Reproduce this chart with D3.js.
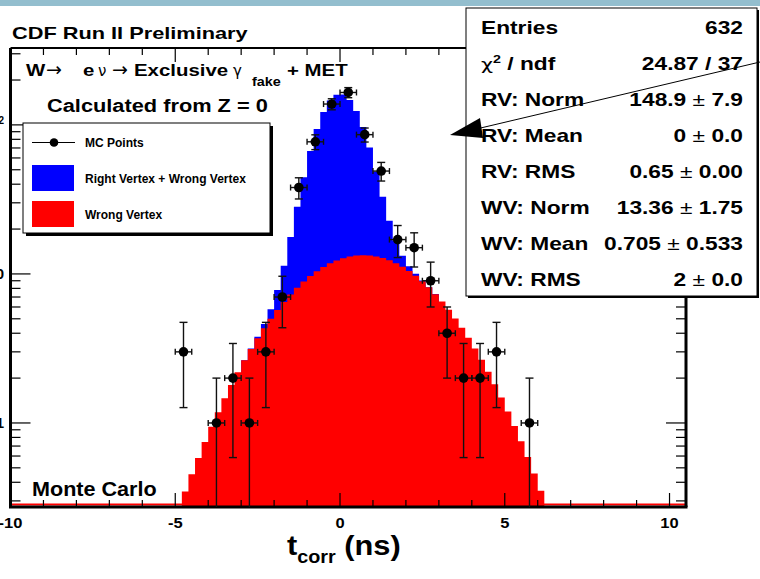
<!DOCTYPE html>
<html>
<head>
<meta charset="utf-8">
<script src="https://cdn.jsdelivr.net/npm/d3@7"></script>
<style>
  body { margin: 0; background: #fff; }
  svg { display: block; }
  text { font-family: "Liberation Sans", Arial, sans-serif; fill: #000; }
  .sym { font-family: "DejaVu Sans", sans-serif; }
</style>
</head>
<body>
<svg width="760" height="579"></svg>
<script>
// histogram binning (ns)
const binWidth = 0.2;
const redStart = -4.8;   // wrong vertex template, low edge of first filled bin
const redValues = [0.347, 0.452, 0.583, 0.745, 0.943, 1.182, 1.465, 1.799, 2.187, 2.632,
  3.136, 3.700, 4.321, 4.996, 5.720, 6.483, 7.275, 8.083, 8.891, 9.682,
  10.438, 11.142, 11.775, 12.320, 12.763, 13.089, 13.290, 13.360, 13.297, 13.102,
  12.782, 12.345, 11.804, 11.176, 10.475, 9.721, 8.931, 8.124, 7.315, 6.522,
  5.757, 5.031, 4.354, 3.730, 3.163, 2.656, 2.208, 1.817, 1.480, 1.195,
  0.954, 0.754, 0.591, 0.458, 0.351];
const blueStart = -3.0;  // right vertex + wrong vertex
const blueValues = [2.64, 3.16, 3.79, 4.61, 5.80, 7.80, 11.35, 17.67, 28.23, 44.45,
  66.77, 93.82, 121.90, 145.64, 159.47, 159.91, 146.95, 124.05, 96.74, 70.39,
  48.66, 32.93, 22.74, 16.68, 13.25, 11.28, 10.01, 9.02, 8.15, 7.32];

// MC points (0.5 ns bins)
const mcHalfWidth = 0.25;
const mcTimes = [-4.75, -3.75, -3.25, -2.75, -2.25, -1.75, -1.25, -0.75, -0.25, 0.25,
  0.75, 1.25, 1.75, 2.25, 2.75, 3.25, 3.75, 4.25, 4.75, 5.75];
const mcCounts = [3, 1, 2, 1, 3, 7, 38, 77, 138, 165, 86, 49, 17, 15, 9, 4, 2, 2, 3, 1];

const xTickLabels = [-10, -5, 0, 5, 10];
const yDecades = [1, 10, 100];
const yDecadeLabels = [["1", ""], ["10", ""], ["10", "2"]];

const statsLabels = [
  [["Entries", "b"]],
  [["\u03c7", "n"], ["2", "sup"], [" / ndf", "b"]],
  [["RV: Norm", "b"]], [["RV: Mean", "b"]], [["RV: RMS", "b"]],
  [["WV: Norm", "b"]], [["WV: Mean", "b"]], [["WV: RMS", "b"]]
];
const statsValues = ["632", "24.87 / 37", "148.9 \u00b1 7.9", "0 \u00b1 0.0", "0.65 \u00b1 0.00",
  "13.36 \u00b1 1.75", "0.705 \u00b1 0.533", "2 \u00b1 0.0"];
const legendLabels = ["MC Points", "Right Vertex + Wrong Vertex", "Wrong Vertex"];

const svg = d3.select("svg");

const x = d3.scaleLinear().domain([-10, 10.5]).range([10.5, 686]);
const y = d3.scaleLog().domain([0.273, 328]).range([507, 48]);
const yBottom = y.range()[0], yTop = y.range()[1];
const xLeft = x.range()[0], xRight = x.range()[1];

// light band at the very top of the slide
svg.append("rect").attr("width", 760).attr("height", 6).attr("fill", "#93bece");

function stext(parent, px, py, sx, size, weight, anchor, str) {
  return parent.append("text")
    .attr("transform", `translate(${px},${py}) scale(${sx},1)`)
    .attr("text-anchor", anchor || "start")
    .attr("font-size", size)
    .attr("font-weight", weight)
    .text(str);
}

// histograms
function histPath(start, values) {
  const pts = [];
  values.forEach((v, i) => {
    const lo = start + i * binWidth;
    pts.push([lo, v], [lo + binWidth, v]);
  });
  return d3.area()
    .x(d => x(d[0]))
    .y0(yBottom)
    .y1(d => y(Math.max(d[1], y.domain()[0])))(pts);
}

svg.append("path").attr("d", histPath(blueStart, blueValues)).attr("fill", "#0000ff");
svg.append("path").attr("d", histPath(redStart, redValues)).attr("fill", "#ff0000");
// underflow of the red template along the bottom edge
svg.append("rect").attr("x", xLeft).attr("y", yBottom - 3.5)
  .attr("width", xRight - xLeft).attr("height", 2).attr("fill", "#ff0000");

// ticks
const xMinor = d3.range(-10, 10.5, 1);
const ticks = svg.append("g").attr("stroke", "#000").attr("stroke-width", 1.2);
xMinor.forEach(v => {
  const len = v % 5 === 0 ? 14 : 7;
  ticks.append("line").attr("x1", x(v)).attr("x2", x(v)).attr("y1", yBottom).attr("y2", yBottom - len);
  ticks.append("line").attr("x1", x(v)).attr("x2", x(v)).attr("y1", yTop).attr("y2", yTop + len);
});
const yMinor = [];
[0.1, 1, 10, 100].forEach(d => {
  for (let k = 1; k <= 9; k++) {
    const v = k * d;
    if (v >= y.domain()[0] && v <= y.domain()[1]) yMinor.push([v, k === 1]);
  }
});
yMinor.forEach(([v, major]) => {
  const len = major ? 20 : 10;
  ticks.append("line").attr("x1", xLeft).attr("x2", xLeft + len).attr("y1", y(v)).attr("y2", y(v));
  ticks.append("line").attr("x1", xRight).attr("x2", xRight - len).attr("y1", y(v)).attr("y2", y(v));
});

// frame
const frame = svg.append("g").attr("stroke", "#000");
frame.append("line").attr("x1", xLeft - 1.5).attr("x2", xRight + 1.5).attr("y1", yBottom).attr("y2", yBottom).attr("stroke-width", 3);
frame.append("line").attr("x1", xLeft).attr("x2", xLeft).attr("y1", yTop).attr("y2", yBottom).attr("stroke-width", 3);
frame.append("line").attr("x1", xRight).attr("x2", xRight).attr("y1", yTop).attr("y2", yBottom).attr("stroke-width", 3);
frame.append("line").attr("x1", xLeft).attr("x2", xRight).attr("y1", yTop).attr("y2", yTop).attr("stroke-width", 2);

// tick labels
xTickLabels.forEach(v => stext(svg, x(v), 528, 1.1, 15, "bold", "middle", String(v)));
yDecades.forEach((v, i) => {
  const t = svg.append("text").attr("x", 4).attr("y", y(v) + 5)
    .attr("text-anchor", "end").attr("font-size", 15).attr("font-weight", "bold")
    .text(yDecadeLabels[i][0]);
  if (yDecadeLabels[i][1]) t.append("tspan").attr("dy", -6).attr("font-size", 10).text(yDecadeLabels[i][1]);
});

// axis title
const xt = stext(svg, 287, 555, 1.1, 28, "bold", "start", "t");
xt.append("tspan").attr("font-size", 18).attr("dy", 8).text("corr");
xt.append("tspan").attr("dy", -8).text(" (ns)");

// MC points with errors
const pts = svg.append("g").attr("stroke", "#111").attr("stroke-width", 1.4);
mcTimes.forEach((t, i) => {
  const n = mcCounts[i], e = Math.sqrt(n);
  const cx = x(t), cy = y(n);
  const hi = y(n + e);
  const lo = n - e > y.domain()[0] ? y(n - e) : yBottom;
  pts.append("line").attr("x1", cx).attr("x2", cx).attr("y1", hi).attr("y2", lo);
  pts.append("line").attr("x1", cx - 4).attr("x2", cx + 4).attr("y1", hi).attr("y2", hi);
  if (lo < yBottom) pts.append("line").attr("x1", cx - 4).attr("x2", cx + 4).attr("y1", lo).attr("y2", lo);
  const xl = x(t - mcHalfWidth), xr = x(t + mcHalfWidth);
  pts.append("line").attr("x1", xl).attr("x2", xr).attr("y1", cy).attr("y2", cy);
  pts.append("line").attr("x1", xl).attr("x2", xl).attr("y1", cy - 3).attr("y2", cy + 3);
  pts.append("line").attr("x1", xr).attr("x2", xr).attr("y1", cy - 3).attr("y2", cy + 3);
  pts.append("circle").attr("cx", cx).attr("cy", cy).attr("r", 4.8).attr("fill", "#000").attr("stroke", "none");
});

// texts in the pad
stext(svg, 12, 38.5, 1.28, 17, "bold", "start", "CDF Run II Preliminary");
const sub = [["W", 26, "bold", 17, 76], ["\u2192", 46, "sym", 19, 76], ["e", 83, "bold", 17, 76],
  ["\u03bd", 98, "sym", 15, 76], ["\u2192", 112, "sym", 19, 76], ["Exclusive", 134, "bold", 17, 76],
  ["\u03b3", 233, "sym", 15, 76], ["fake", 252, "bold", 12, 86], ["+ MET", 287, "bold", 17, 76]];
sub.forEach(([s, px, w, fs, py]) => {
  const t = stext(svg, px, py, w === "sym" ? 1 : 1.2, fs, w === "sym" ? "normal" : w, "start", s);
  if (w === "sym") t.attr("class", "sym");
});
stext(svg, 47, 112, 1.245, 17.5, "bold", "start", "Calculated from Z = 0");
stext(svg, 32, 496, 1.08, 20, "bold", "start", "Monte Carlo");

// legend
const lg = svg.append("g");
lg.append("rect").attr("x", 26).attr("y", 126).attr("width", 247).attr("height", 110).attr("fill", "#000");
lg.append("rect").attr("x", 23).attr("y", 123).attr("width", 247).attr("height", 110)
  .attr("fill", "#fff").attr("stroke", "#000").attr("stroke-width", 1);
lg.append("line").attr("x1", 32).attr("x2", 75).attr("y1", 142.5).attr("y2", 142.5).attr("stroke", "#000").attr("stroke-width", 1.2);
lg.append("circle").attr("cx", 54).attr("cy", 142.5).attr("r", 4.3).attr("fill", "#000");
lg.append("rect").attr("x", 32).attr("y", 165).attr("width", 42).attr("height", 26).attr("fill", "#0000ff");
lg.append("rect").attr("x", 32).attr("y", 201).attr("width", 42).attr("height", 26).attr("fill", "#ff0000");
legendLabels.forEach((s, i) => stext(lg, 85, [147, 182.5, 218.5][i], 1, 12, "bold", "start", s));

// stats box
const st = svg.append("g");
st.append("rect").attr("x", 468).attr("y", 10).attr("width", 291).attr("height", 288).attr("fill", "#000");
st.append("rect").attr("x", 466).attr("y", 8).attr("width", 291).attr("height", 288)
  .attr("fill", "#fff").attr("stroke", "#000").attr("stroke-width", 1);
statsLabels.forEach((segs, i) => {
  const by = 33.5 + i * 36.1;
  const t = st.append("text").attr("transform", `translate(481,${by}) scale(1.3,1)`).attr("font-size", 17.5);
  segs.forEach(([s, kind]) => {
    const sp = t.append("tspan").text(s);
    if (kind === "b") sp.attr("font-weight", "bold");
    if (kind === "n") sp.attr("class", "sym").attr("font-size", 16);
    if (kind === "sup") sp.attr("font-size", 11).attr("dy", -7).attr("font-weight", "bold");
    if (kind === "b" && segs.length > 1) sp.attr("dy", 7);
  });
  const parts = statsValues[i].split("\u00b1");
  const v = st.append("text").attr("transform", `translate(743,${by}) scale(1.3,1)`)
    .attr("text-anchor", "end").attr("font-size", 17.5);
  v.append("tspan").attr("font-weight", "bold").text(parts[0]);
  if (parts.length > 1) {
    v.append("tspan").attr("font-weight", "normal").text("\u00b1");
    v.append("tspan").attr("font-weight", "bold").text(parts[1]);
  }
});

// arrow
svg.append("line").attr("x1", 760).attr("y1", 62).attr("x2", 470).attr("y2", 130.5)
  .attr("stroke", "#000").attr("stroke-width", 1);
svg.append("path").attr("d", "M450,135 L480,118 L483,138 Z").attr("fill", "#000");
</script>
</body>
</html>
